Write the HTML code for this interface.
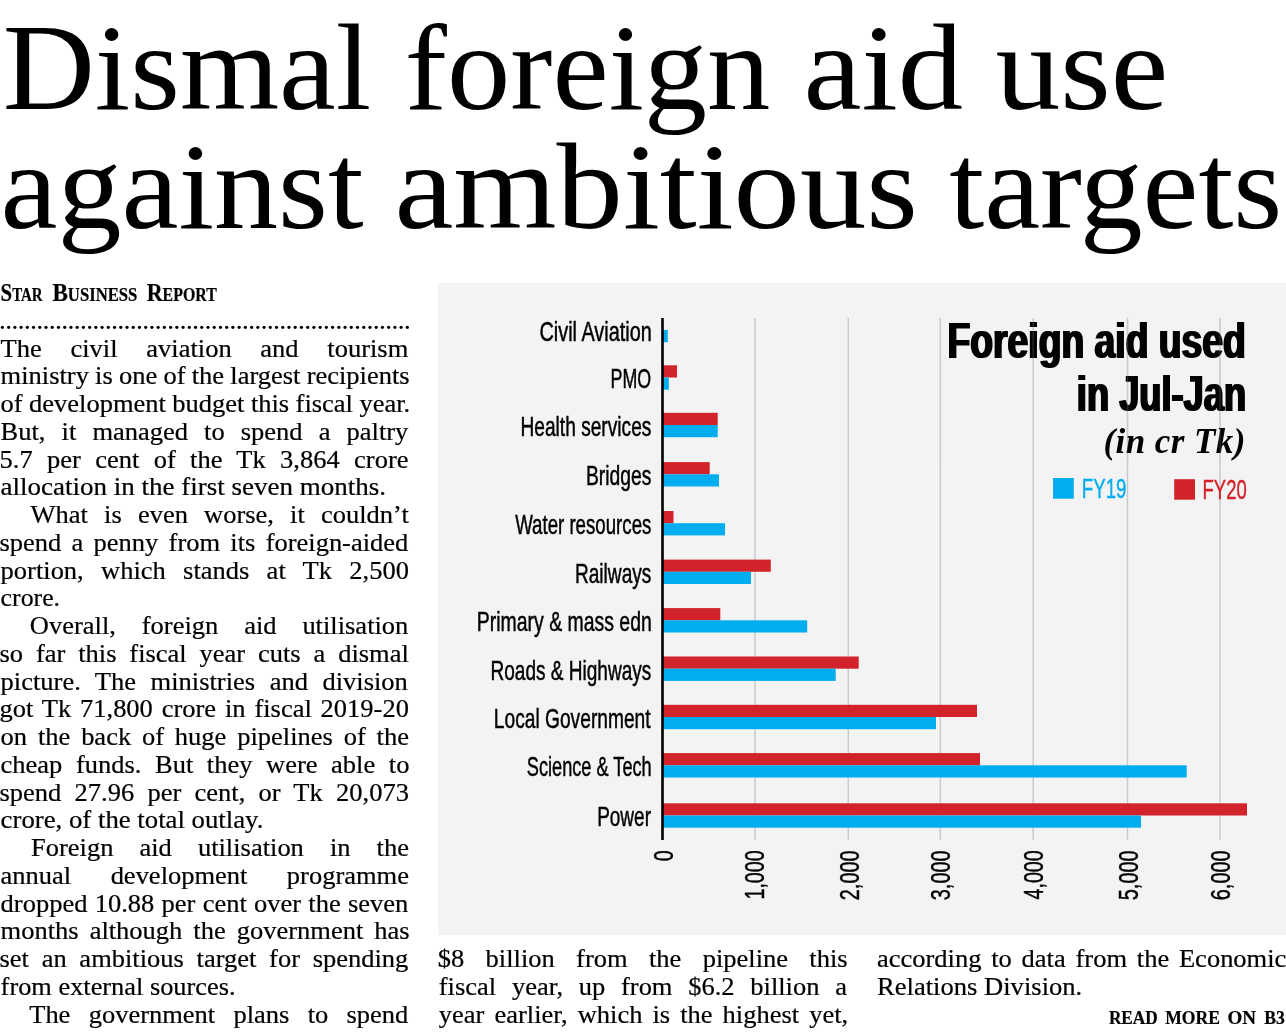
<!DOCTYPE html>
<html lang="en"><head><meta charset="utf-8"><title>Dismal foreign aid use against ambitious targets</title>
<style>
html,body{margin:0;padding:0;background:#fff;}
body{width:1286px;height:1033px;position:relative;overflow:hidden;font-family:"Liberation Serif",serif;color:#000;}
.abs{position:absolute;left:0;top:0;}
.g{opacity:0.999;will-change:opacity;}
.panel{position:absolute;left:438px;top:283px;width:848px;height:652px;background:#f3f3f3;}
</style></head><body>
<svg class="abs g" width="1286" height="280" viewBox="0 0 1286 280"><g font-family="Liberation Serif, serif" font-size="122" fill="#000">
<text x="2.66" y="109.2" textLength="368.52" lengthAdjust="spacingAndGlyphs">Dismal</text>
<text x="404.89" y="109.2" textLength="365.55" lengthAdjust="spacingAndGlyphs">foreign</text>
<text x="803.52" y="109.2" textLength="159.55" lengthAdjust="spacingAndGlyphs">aid</text>
<text x="995.54" y="109.2" textLength="172.87" lengthAdjust="spacingAndGlyphs">use</text>
<text x="0.50" y="228" textLength="363.09" lengthAdjust="spacingAndGlyphs">against</text>
<text x="394.45" y="228" textLength="523.54" lengthAdjust="spacingAndGlyphs">ambitious</text>
<text x="949.27" y="228" textLength="333.02" lengthAdjust="spacingAndGlyphs">targets</text>
</g></svg>
<svg class="abs" style="top:324px" width="412" height="6" viewBox="0 324 412 6" fill="#000"><circle cx="2.40" cy="327.3" r="1.6"/><circle cx="8.63" cy="327.3" r="1.6"/><circle cx="14.86" cy="327.3" r="1.6"/><circle cx="21.09" cy="327.3" r="1.6"/><circle cx="27.32" cy="327.3" r="1.6"/><circle cx="33.55" cy="327.3" r="1.6"/><circle cx="39.78" cy="327.3" r="1.6"/><circle cx="46.01" cy="327.3" r="1.6"/><circle cx="52.24" cy="327.3" r="1.6"/><circle cx="58.47" cy="327.3" r="1.6"/><circle cx="64.70" cy="327.3" r="1.6"/><circle cx="70.93" cy="327.3" r="1.6"/><circle cx="77.16" cy="327.3" r="1.6"/><circle cx="83.39" cy="327.3" r="1.6"/><circle cx="89.62" cy="327.3" r="1.6"/><circle cx="95.85" cy="327.3" r="1.6"/><circle cx="102.08" cy="327.3" r="1.6"/><circle cx="108.31" cy="327.3" r="1.6"/><circle cx="114.54" cy="327.3" r="1.6"/><circle cx="120.77" cy="327.3" r="1.6"/><circle cx="127.00" cy="327.3" r="1.6"/><circle cx="133.23" cy="327.3" r="1.6"/><circle cx="139.46" cy="327.3" r="1.6"/><circle cx="145.69" cy="327.3" r="1.6"/><circle cx="151.92" cy="327.3" r="1.6"/><circle cx="158.15" cy="327.3" r="1.6"/><circle cx="164.38" cy="327.3" r="1.6"/><circle cx="170.61" cy="327.3" r="1.6"/><circle cx="176.84" cy="327.3" r="1.6"/><circle cx="183.07" cy="327.3" r="1.6"/><circle cx="189.30" cy="327.3" r="1.6"/><circle cx="195.53" cy="327.3" r="1.6"/><circle cx="201.76" cy="327.3" r="1.6"/><circle cx="207.99" cy="327.3" r="1.6"/><circle cx="214.22" cy="327.3" r="1.6"/><circle cx="220.45" cy="327.3" r="1.6"/><circle cx="226.68" cy="327.3" r="1.6"/><circle cx="232.91" cy="327.3" r="1.6"/><circle cx="239.14" cy="327.3" r="1.6"/><circle cx="245.37" cy="327.3" r="1.6"/><circle cx="251.60" cy="327.3" r="1.6"/><circle cx="257.83" cy="327.3" r="1.6"/><circle cx="264.06" cy="327.3" r="1.6"/><circle cx="270.29" cy="327.3" r="1.6"/><circle cx="276.52" cy="327.3" r="1.6"/><circle cx="282.75" cy="327.3" r="1.6"/><circle cx="288.98" cy="327.3" r="1.6"/><circle cx="295.21" cy="327.3" r="1.6"/><circle cx="301.44" cy="327.3" r="1.6"/><circle cx="307.67" cy="327.3" r="1.6"/><circle cx="313.90" cy="327.3" r="1.6"/><circle cx="320.13" cy="327.3" r="1.6"/><circle cx="326.36" cy="327.3" r="1.6"/><circle cx="332.59" cy="327.3" r="1.6"/><circle cx="338.82" cy="327.3" r="1.6"/><circle cx="345.05" cy="327.3" r="1.6"/><circle cx="351.28" cy="327.3" r="1.6"/><circle cx="357.51" cy="327.3" r="1.6"/><circle cx="363.74" cy="327.3" r="1.6"/><circle cx="369.97" cy="327.3" r="1.6"/><circle cx="376.20" cy="327.3" r="1.6"/><circle cx="382.43" cy="327.3" r="1.6"/><circle cx="388.66" cy="327.3" r="1.6"/><circle cx="394.89" cy="327.3" r="1.6"/><circle cx="401.12" cy="327.3" r="1.6"/><circle cx="407.35" cy="327.3" r="1.6"/></svg>
<svg class="abs g" width="1286" height="1033" viewBox="0 0 1286 1033"><g fill="#000" stroke="#000" stroke-width="0.22">
<g font-family="Liberation Serif, serif" font-weight="bold" font-size="25" font-variant="small-caps">
<text x="0.57" y="300.8" textLength="42.10" lengthAdjust="spacingAndGlyphs">Star</text>
<text x="52.40" y="300.8" textLength="85.01" lengthAdjust="spacingAndGlyphs">Business</text>
<text x="146.70" y="300.8" textLength="70.11" lengthAdjust="spacingAndGlyphs">Report</text>
</g>
<g font-family="Liberation Serif, serif" font-weight="bold" font-size="18.2">
<text x="1108.90" y="1023.6" textLength="48.93" lengthAdjust="spacingAndGlyphs">READ</text>
<text x="1165.20" y="1023.6" textLength="54.73" lengthAdjust="spacingAndGlyphs">MORE</text>
<text x="1227.60" y="1023.6" textLength="28.44" lengthAdjust="spacingAndGlyphs">ON</text>
<text x="1264.20" y="1023.6" textLength="20.59" lengthAdjust="spacingAndGlyphs">B3</text>
</g>
<g font-family="Liberation Serif, serif" font-size="25.0" xml:space="preserve">
<text transform="translate(0.60,356.70) scale(1.06,1)" style="word-spacing:20.853px">The civil aviation and tourism</text>
<text transform="translate(0.60,384.45) scale(1.06,1)" style="word-spacing:-0.388px">ministry is one of the largest recipients</text>
<text transform="translate(0.60,412.20) scale(1.06,1)" style="word-spacing:-0.171px">of development budget this fiscal year.</text>
<text transform="translate(0.60,439.95) scale(1.06,1)" style="word-spacing:8.934px">But, it managed to spend a paltry</text>
<text transform="translate(-0.46,467.70) scale(1.06,1)" style="word-spacing:7.298px">5.7 per cent of the Tk 3,864 crore</text>
<text transform="translate(0.60,495.45) scale(1.0809,1)">allocation in the first seven months.</text>
<text transform="translate(30.50,523.20) scale(1.06,1)" style="word-spacing:9.012px">What is even worse, it couldn’t</text>
<text transform="translate(-0.46,550.95) scale(1.06,1)" style="word-spacing:3.429px">spend a penny from its foreign-aided</text>
<text transform="translate(0.60,578.70) scale(1.06,1)" style="word-spacing:10.081px">portion, which stands at Tk 2,500</text>
<text transform="translate(0.60,606.45) scale(1.0330,1)">crore.</text>
<text transform="translate(29.84,634.20) scale(1.06,1)" style="word-spacing:18.167px">Overall, foreign aid utilisation</text>
<text transform="translate(-0.46,661.95) scale(1.06,1)" style="word-spacing:5.885px">so far this fiscal year cuts a dismal</text>
<text transform="translate(0.60,689.70) scale(1.06,1)" style="word-spacing:7.496px">picture. The ministries and division</text>
<text transform="translate(-0.46,717.45) scale(1.06,1)" style="word-spacing:2.094px">got Tk 71,800 crore in fiscal 2019-20</text>
<text transform="translate(0.60,745.20) scale(1.06,1)" style="word-spacing:3.978px">on the back of huge pipelines of the</text>
<text transform="translate(0.60,772.95) scale(1.06,1)" style="word-spacing:6.562px">cheap funds. But they were able to</text>
<text transform="translate(-0.46,800.70) scale(1.06,1)" style="word-spacing:6.259px">spend 27.96 per cent, or Tk 20,073</text>
<text transform="translate(0.60,828.45) scale(1.0714,1)">crore, of the total outlay.</text>
<text transform="translate(31.00,856.20) scale(1.06,1)" style="word-spacing:18.350px">Foreign aid utilisation in the</text>
<text transform="translate(0.60,883.95) scale(1.06,1)" style="word-spacing:30.940px">annual development programme</text>
<text transform="translate(0.60,911.70) scale(1.06,1)" style="word-spacing:0.611px">dropped 10.88 per cent over the seven</text>
<text transform="translate(0.60,939.45) scale(1.06,1)" style="word-spacing:4.157px">months although the government has</text>
<text transform="translate(-0.46,967.20) scale(1.06,1)" style="word-spacing:5.736px">set an ambitious target for spending</text>
<text transform="translate(0.60,994.95) scale(1.0547,1)">from external sources.</text>
<text transform="translate(29.20,1022.70) scale(1.06,1)" style="word-spacing:10.996px">The government plans to spend</text>
<text transform="translate(437.74,967.20) scale(1.06,1)" style="word-spacing:13.900px">$8 billion from the pipeline this</text>
<text transform="translate(438.80,994.95) scale(1.06,1)" style="word-spacing:8.593px">fiscal year, up from $6.2 billion a</text>
<text transform="translate(438.80,1022.70) scale(1.06,1)" style="word-spacing:3.238px">year earlier, which is the highest yet,</text>
<text transform="translate(877.00,967.20) scale(1.06,1)" style="word-spacing:2.987px">according to data from the Economic</text>
<text transform="translate(877.00,994.95) scale(1.0636,1)">Relations Division.</text>
</g>
</g></svg>
<div class="panel"></div>
<svg class="abs" style="left:438px;top:283px" viewBox="438 283 848 652" width="848" height="652">
<rect x="754.25" y="318" width="1.5" height="522" fill="#c8cbce"/>
<rect x="847.55" y="318" width="1.5" height="522" fill="#c8cbce"/>
<rect x="939.55" y="318" width="1.5" height="522" fill="#c8cbce"/>
<rect x="1032.45" y="318" width="1.5" height="522" fill="#c8cbce"/>
<rect x="1126.75" y="318" width="1.5" height="522" fill="#c8cbce"/>
<rect x="1219.25" y="318" width="1.5" height="522" fill="#c8cbce"/>
<rect x="662.5" y="330.00" width="5.30" height="12.2" fill="#00adee"/>
<rect x="662.5" y="365.30" width="14.50" height="12.2" fill="#d2232a"/>
<rect x="662.5" y="377.50" width="6.30" height="12.2" fill="#00adee"/>
<rect x="662.5" y="412.80" width="55.20" height="12.2" fill="#d2232a"/>
<rect x="662.5" y="425.00" width="55.20" height="12.2" fill="#00adee"/>
<rect x="662.5" y="462.10" width="47.20" height="12.2" fill="#d2232a"/>
<rect x="662.5" y="474.30" width="56.50" height="12.2" fill="#00adee"/>
<rect x="662.5" y="511.00" width="11.00" height="12.2" fill="#d2232a"/>
<rect x="662.5" y="523.20" width="62.50" height="12.2" fill="#00adee"/>
<rect x="662.5" y="559.60" width="108.30" height="12.2" fill="#d2232a"/>
<rect x="662.5" y="571.80" width="88.50" height="12.2" fill="#00adee"/>
<rect x="662.5" y="608.10" width="57.80" height="12.2" fill="#d2232a"/>
<rect x="662.5" y="620.30" width="144.70" height="12.2" fill="#00adee"/>
<rect x="662.5" y="656.50" width="196.20" height="12.2" fill="#d2232a"/>
<rect x="662.5" y="668.70" width="173.20" height="12.2" fill="#00adee"/>
<rect x="662.5" y="704.80" width="314.50" height="12.2" fill="#d2232a"/>
<rect x="662.5" y="717.00" width="273.50" height="12.2" fill="#00adee"/>
<rect x="662.5" y="753.10" width="317.50" height="12.2" fill="#d2232a"/>
<rect x="662.5" y="765.30" width="524.20" height="12.2" fill="#00adee"/>
<rect x="662.5" y="803.30" width="584.50" height="12.2" fill="#d2232a"/>
<rect x="662.5" y="815.50" width="478.50" height="12.2" fill="#00adee"/>
<rect x="661.2" y="318" width="2.6" height="522" fill="#000"/>
<rect x="1053" y="478" width="20.8" height="20.7" fill="#00adee"/>
<rect x="1174.2" y="479.2" width="20.8" height="20.5" fill="#d2232a"/>
</svg>
<svg class="abs g" style="left:438px;top:283px" viewBox="438 283 848 652" width="848" height="652">
<defs><filter id="fx" x="-2%" y="-10%" width="104%" height="120%"><feMorphology operator="dilate" radius="1 0"/></filter></defs>
<g font-family="Liberation Sans, sans-serif" font-weight="bold" font-size="50" fill="#000" filter="url(#fx)">
<text x="947.46" y="358" textLength="298.43" lengthAdjust="spacingAndGlyphs">Foreign aid used</text>
<text x="1076.82" y="411.3" textLength="169.32" lengthAdjust="spacingAndGlyphs">in Jul-Jan</text>
</g>
<text x="1103.50" y="452.5" font-family="Liberation Serif, serif" font-weight="bold" font-style="italic" font-size="35" style="letter-spacing:0.425px" fill="#000">(in cr Tk)</text>
<rect x="939.55" y="318" width="1.5" height="150" fill="#c8cbce" opacity="0.18"/>
<rect x="1032.45" y="318" width="1.5" height="150" fill="#c8cbce" opacity="0.18"/>
<rect x="1126.75" y="318" width="1.5" height="150" fill="#c8cbce" opacity="0.18"/>
<rect x="1219.25" y="318" width="1.5" height="150" fill="#c8cbce" opacity="0.18"/>
<g font-family="Liberation Sans, sans-serif" font-size="27.5" fill="#000" stroke="#000" stroke-width="0.5">
<text x="539.53" y="340.90" textLength="112.24" lengthAdjust="spacingAndGlyphs">Civil Aviation</text>
<text x="610.56" y="388.40" textLength="40.55" lengthAdjust="spacingAndGlyphs">PMO</text>
<text x="520.46" y="435.90" textLength="130.92" lengthAdjust="spacingAndGlyphs">Health services</text>
<text x="585.95" y="485.20" textLength="65.43" lengthAdjust="spacingAndGlyphs">Bridges</text>
<text x="515.15" y="534.10" textLength="136.21" lengthAdjust="spacingAndGlyphs">Water resources</text>
<text x="574.96" y="582.70" textLength="76.41" lengthAdjust="spacingAndGlyphs">Railways</text>
<text x="476.84" y="631.20" textLength="174.93" lengthAdjust="spacingAndGlyphs">Primary &amp; mass edn</text>
<text x="490.46" y="679.60" textLength="160.90" lengthAdjust="spacingAndGlyphs">Roads &amp; Highways</text>
<text x="493.85" y="727.90" textLength="156.74" lengthAdjust="spacingAndGlyphs">Local Government</text>
<text x="526.79" y="776.20" textLength="124.91" lengthAdjust="spacingAndGlyphs">Science &amp; Tech</text>
<text x="597.17" y="826.40" textLength="53.79" lengthAdjust="spacingAndGlyphs">Power</text>
</g>
<g font-family="Liberation Sans, sans-serif" font-size="26.8" fill="#000" stroke="#000" stroke-width="0.45">
<text transform="translate(673.07,860.8) rotate(-90)" x="-0.51" textLength="10.95" lengthAdjust="spacingAndGlyphs">0</text>
<text transform="translate(763.98,898.3) rotate(-90)" x="-1.24" textLength="49.18" lengthAdjust="spacingAndGlyphs">1,000</text>
<text transform="translate(859.27,899.7) rotate(-90)" x="-0.52" textLength="49.87" lengthAdjust="spacingAndGlyphs">2,000</text>
<text transform="translate(950.07,899.7) rotate(-90)" x="-0.52" textLength="49.87" lengthAdjust="spacingAndGlyphs">3,000</text>
<text transform="translate(1043.38,899.7) rotate(-90)" x="0.23" textLength="49.11" lengthAdjust="spacingAndGlyphs">4,000</text>
<text transform="translate(1138.18,899.7) rotate(-90)" x="-0.52" textLength="49.87" lengthAdjust="spacingAndGlyphs">5,000</text>
<text transform="translate(1229.98,899.7) rotate(-90)" x="-0.52" textLength="49.87" lengthAdjust="spacingAndGlyphs">6,000</text>
</g>
<text x="1081.84" y="498.4" font-family="Liberation Sans, sans-serif" font-size="27.5" textLength="44.64" lengthAdjust="spacingAndGlyphs" fill="#00adee" stroke="#00adee" stroke-width="0.4">FY19</text>
<text x="1202.56" y="499" font-family="Liberation Sans, sans-serif" font-size="27.5" textLength="44.14" lengthAdjust="spacingAndGlyphs" fill="#d2232a" stroke="#d2232a" stroke-width="0.4">FY20</text>
</svg>
</body></html>
